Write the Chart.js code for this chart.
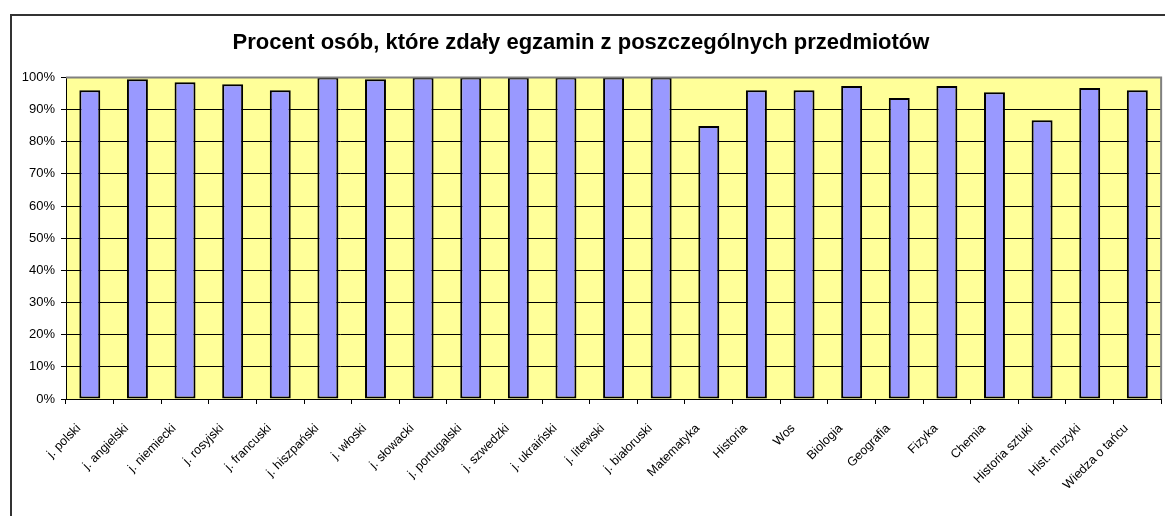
<!DOCTYPE html>
<html>
<head>
<meta charset="utf-8">
<script src="https://cdn.jsdelivr.net/npm/chart.js@4/dist/chart.umd.min.js"></script>
<style>
    html, body { margin: 0; padding: 0; background: #fff; overflow: hidden; }
    #wrap { position: relative; width: 1165px; height: 516px; }
</style>
</head>
<body>
<div id="wrap"><canvas id="myBarChart" width="1165" height="516"></canvas></div>
<script>
// przedmioty
const subjects = [
    'j. polski', 'j. angielski', 'j. niemiecki', 'j. rosyjski', 'j. francuski',
    'j. hiszpański', 'j. włoski', 'j. słowacki', 'j. portugalski', 'j. szwedzki',
    'j. ukraiński', 'j. litewski', 'j. białoruski', 'Matematyka', 'Historia',
    'Wos', 'Biologia', 'Geografia', 'Fizyka', 'Chemia', 'Historia sztuki',
    'Hist. muzyki', 'Wiedza o tańcu'
];
// procent zdających
const pass_percent = [
    96.0, 99.4, 98.5, 97.9, 96.0,
    100, 99.4, 100, 100, 100,
    100, 100, 100, 84.9, 96.0,
    96.0, 97.3, 93.6, 97.3, 95.4, 86.7,
    96.7, 96.0
];
const y_ticks = [0, 10, 20, 30, 40, 50, 60, 70, 80, 90, 100];

const chart_title = 'Procent osób, które zdały egzamin z poszczególnych przedmiotów';

const frame_plugin = {
    id: 'frame_plugin',
    beforeDraw(chart) {
        const ctx = chart.ctx;
        const a = chart.chartArea;
        ctx.save();
        // zewnętrzna ramka
        ctx.strokeStyle = '#333';
        ctx.lineWidth = 2;
        ctx.beginPath();
        ctx.moveTo(11, 600);
        ctx.lineTo(11, 15);
        ctx.lineTo(1300, 15);
        ctx.stroke();
        // tło wykresu
        ctx.fillStyle = '#ffff99';
        ctx.fillRect(a.left, a.top, a.right - a.left, a.bottom - a.top);
        ctx.restore();
    },
    afterDatasetsDraw(chart) {
        const ctx = chart.ctx;
        const a = chart.chartArea;
        ctx.save();
        ctx.strokeStyle = '#808080';
        ctx.lineWidth = 2;
        ctx.beginPath();
        ctx.moveTo(a.left, a.top);
        ctx.lineTo(a.right, a.top);
        ctx.lineTo(a.right, a.bottom);
        ctx.stroke();
        ctx.restore();
    }
};

const ctx = document.getElementById('myBarChart').getContext('2d');
const myBarChart = new Chart(ctx, {
    type: 'bar',
    data: {
        labels: subjects,
        datasets: [{
            label: 'Procent',
            data: pass_percent,
            backgroundColor: '#9999ff',
            borderColor: '#000',
            borderWidth: 2,
            borderSkipped: false,
            barPercentage: 0.44,
            categoryPercentage: 1.0
        }]
    },
    options: {
        responsive: false,
        animation: false,
        layout: {
            padding: { left: 0, right: 3, top: 0, bottom: 0 }
        },
        plugins: {
            legend: { display: false },
            tooltip: { enabled: false },
            title: {
                display: true,
                text: chart_title,
                color: '#000',
                font: { family: 'Liberation Sans', size: 22, weight: 'bold' },
                padding: { top: 30, bottom: 21 }
            }
        },
        scales: {
            x: {
                offset: true,
                afterFit: s => { s.height = 117; },
                grid: {
                    offset: true,
                    drawOnChartArea: false,
                    drawTicks: true,
                    tickLength: 5,
                    color: '#000'
                },
                border: { color: '#000', width: 1 },
                ticks: {
                    autoSkip: false,
                    maxRotation: 45,
                    minRotation: 45,
                    padding: 17,
                    labelOffset: -11,
                    color: '#000',
                    font: { family: 'Liberation Sans', size: 12.5 }
                }
            },
            y: {
                min: 0,
                max: 100,
                afterFit: s => { s.width = 66; },
                afterBuildTicks: s => { s.ticks = y_ticks.map(v => ({ value: v })); },
                grid: {
                    color: '#000',
                    lineWidth: 1,
                    tickLength: 5
                },
                border: { color: '#000', width: 1 },
                ticks: {
                    padding: 6,
                    color: '#000',
                    font: { family: 'Liberation Sans', size: 13 },
                    callback: v => v + '%'
                }
            }
        }
    },
    plugins: [frame_plugin]
});
</script>
</body>
</html>
